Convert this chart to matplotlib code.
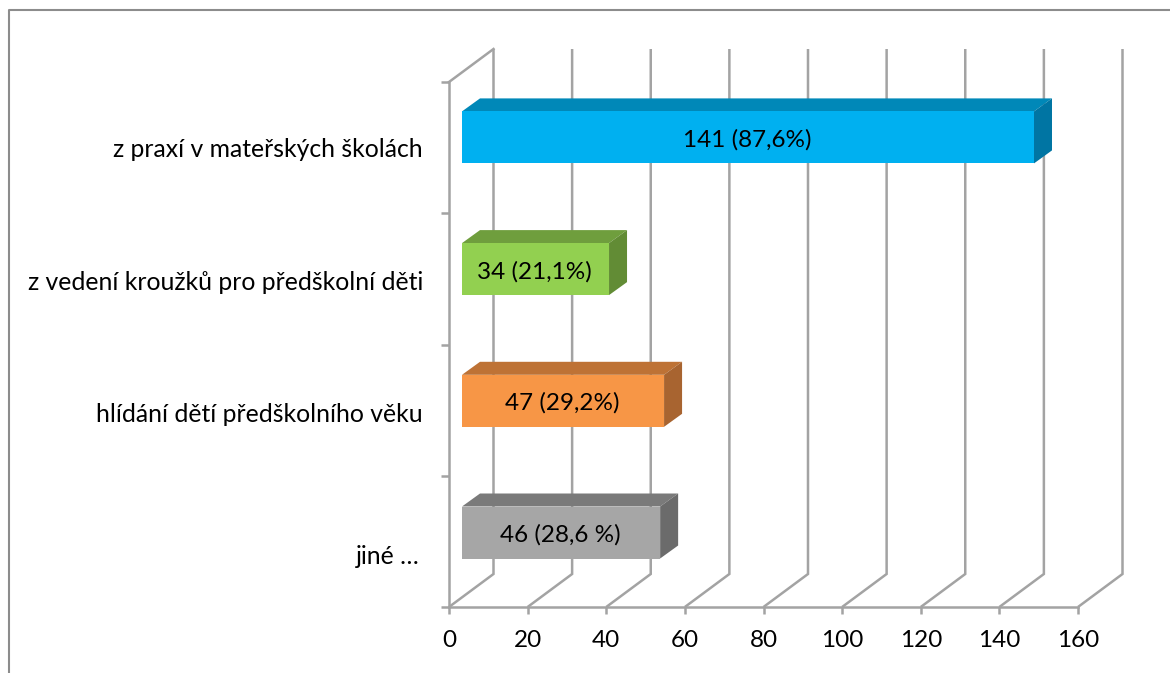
import matplotlib
matplotlib.use("Agg")
import matplotlib.pyplot as plt
from matplotlib.lines import Line2D
from matplotlib.patches import Polygon
from matplotlib.transforms import Affine2D

plt.rcParams['font.family'] = ['Lato', 'DejaVu Sans']

categories = ["z praxí v mateřských školách", "z vedení kroužků pro předškolní děti",
              "hlídání dětí předškolního věku", "jiné …"]
value_labels = ["141 (87,6%)", "34 (21,1%)", "47 (29,2%)", "46 (28,6 %)"]
# Bar lengths as drawn in the picture, read against the axis scale
bar_lengths = [145.5, 37.4, 51.4, 50.4]
front_colors = ["#00B0F0", "#92D050", "#F79646", "#A6A6A6"]
top_colors = ["#0088B8", "#6F9E3D", "#BE7235", "#7A7A7A"]
side_colors = ["#0075A3", "#628C35", "#A86430", "#6B6B6B"]
x_ticks = [0, 20, 40, 60, 80, 100, 120, 140, 160]

W, H = 1170, 673
L, R, T, B = 449, 1078, 82, 607
fig = plt.figure(figsize=(W / 100, H / 100), dpi=100, facecolor="white")
ax = fig.add_axes([L / W, 1 - B / H, (R - L) / W, (B - T) / H])
ax.set_xlim(0, 160)
ax.set_ylim(4, 0)
ax.patch.set_visible(False)

px_x = 160 / (R - L)
px_y = 4 / (B - T)
GRID = "#A3A3A3"
LW = 1.8
FS = 17.5
wall_dx, wall_dy = 44.5 * px_x, 33 * px_y

# back wall gridlines with floor diagonals
for v in x_ticks:
    ax.plot([v, v + wall_dx, v + wall_dx], [4, 4 - wall_dy, -wall_dy],
            color=GRID, lw=LW, clip_on=False, zorder=1, solid_joinstyle="miter", solid_capstyle="butt")
# left wall top edge
ax.plot([0, wall_dx], [0, -wall_dy], color=GRID, lw=LW, clip_on=False, zorder=1)

# bars
depth_dx, depth_dy = 18 * px_x, 13 * px_y
base = 13 * px_x
bar_h = 52 * px_y
centers = [(137.4 + 131.7 * i - T) * px_y for i in range(4)]
for c, n, f, t, s, lab in zip(centers, bar_lengths, front_colors, top_colors, side_colors, value_labels):
    x0, x1 = base, base + n
    y0, y1 = c - bar_h / 2, c + bar_h / 2
    ax.add_patch(Polygon([(x0, y0), (x1, y0), (x1 + depth_dx, y0 - depth_dy), (x0 + depth_dx, y0 - depth_dy)],
                         closed=True, fc=t, ec="none", clip_on=False, zorder=3))
    ax.add_patch(Polygon([(x1, y0), (x1 + depth_dx, y0 - depth_dy), (x1 + depth_dx, y1 - depth_dy), (x1, y1)],
                         closed=True, fc=s, ec="none", clip_on=False, zorder=3))
    ax.barh(c, n, left=base, height=bar_h, color=f, zorder=4, clip_on=False)
    ax.text(base + n / 2 - 1 * px_x, c + 2.5 * px_y, lab, ha="center", va="center", fontsize=FS, color="black", zorder=5)

for side in ("top", "right"):
    ax.spines[side].set_visible(False)
for side in ("left", "bottom"):
    ax.spines[side].set_color(GRID)
    ax.spines[side].set_linewidth(LW)

ax.set_xticks(x_ticks)
ax.tick_params(axis="x", length=5, width=LW, color=GRID, pad=11.5, labelsize=FS, labelcolor="black")
ax.set_yticks([0, 1, 2, 3, 4])
ax.set_yticklabels([])
ax.tick_params(axis="y", which="major", length=6, width=LW, color=GRID)
ax.set_yticks([i + 0.5 for i in range(4)], minor=True)
ax.set_yticklabels(categories, minor=True)
ax.tick_params(axis="y", which="minor", length=0, pad=18.7, labelsize=17.8, labelcolor="black")
label_shift = [(0, 0), (0, -2), (0, -2), (-3, -13)]
for tick, (dx, dy) in zip(ax.yaxis.get_minor_ticks(), label_shift):
    tick.label1.set_transform(tick.label1.get_transform() + Affine2D().translate(dx, dy))

# outer frame
fig.add_artist(Line2D([8.5 / W, 8.5 / W, 1], [0, 1 - 9.5 / H, 1 - 9.5 / H], color="#8C8C8C", lw=1.5,
                      transform=fig.transFigure))

fig.savefig("out.png", dpi=100, facecolor="white")
